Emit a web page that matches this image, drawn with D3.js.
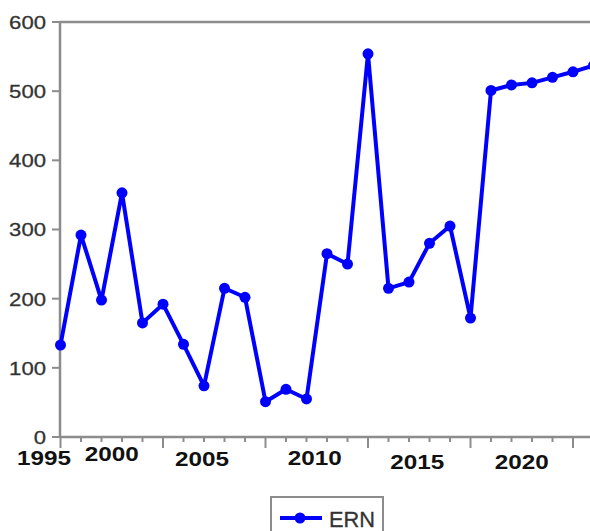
<!DOCTYPE html>
<html>
<head>
<meta charset="utf-8">
<script src="https://cdn.jsdelivr.net/npm/d3@7"></script>
<style>
  body { margin:0; background:#fff; }
  svg { display:block; }
</style>
</head>
<body>
<div id="chart"></div>
<script>
const years = d3.range(1995, 2022);
const ern = [133, 292, 198, 353, 165, 192, 134, 74, 215, 202, 51, 69, 55, 265, 250, 554,
             215, 224, 280, 305, 172, 501, 509, 512, 520, 528, 537];
const yTicks = [0, 100, 200, 300, 400, 500, 600];
// x labels sit where the original picture put them (offset from the ticks)
const xLabels = ["1995", "2000", "2005", "2010", "2015", "2020"];
const xLabelAt = [1994.2, 1997.5, 2001.9, 2007.4, 2012.4, 2017.5];
const xLabelDy = [0, -4, 1, 0, 4, 4];

const width = 590, height = 531;
const x = d3.scaleLinear().domain([1995, 2020]).range([60.5, 573]);
const y = d3.scaleLinear().domain([0, 600]).range([437, 22]);

const svg = d3.select("#chart").append("svg")
    .attr("width", width).attr("height", height);

// frame
svg.append("line").attr("x1", 60).attr("x2", width).attr("y1", y(600)).attr("y2", y(600))
    .attr("stroke", "#8c8c8c").attr("stroke-width", 2.5);
svg.append("line").attr("x1", 60).attr("x2", 60).attr("y1", y(600)).attr("y2", y(0))
    .attr("stroke", "#8c8c8c").attr("stroke-width", 2.5);
svg.append("line").attr("x1", 60).attr("x2", width).attr("y1", y(0)).attr("y2", y(0))
    .attr("stroke", "#8c8c8c").attr("stroke-width", 2.5);

// y ticks + labels
yTicks.forEach(t => {
    svg.append("line").attr("x1", 52).attr("x2", 60).attr("y1", y(t)).attr("y2", y(t))
        .attr("stroke", "#8c8c8c").attr("stroke-width", 2);
    svg.append("text")
        .attr("x", 46).attr("y", y(t)).attr("dy", "0.36em")
        .attr("text-anchor", "end")
        .attr("textLength", String(t).length * 12.3)
        .attr("lengthAdjust", "spacingAndGlyphs")
        .style("font-family", "'Liberation Sans', Arial, sans-serif")
        .style("font-size", "19px")
        .style("fill", "#333")
        .style("stroke", "#333").style("stroke-width", 0.3)
        .text(t);
});

// x ticks
years.forEach((yr, i) => {
    svg.append("line").attr("x1", x(yr)).attr("x2", x(yr))
        .attr("y1", y(0)).attr("y2", y(0) + (i % 5 === 0 ? 11 : 5))
        .attr("stroke", "#8c8c8c").attr("stroke-width", 2);
});

// x labels
xLabels.forEach((lab, i) => {
    svg.append("text")
        .attr("x", x(xLabelAt[i])).attr("y", 465 + xLabelDy[i])
        .attr("text-anchor", "middle")
        .attr("textLength", 54)
        .attr("lengthAdjust", "spacingAndGlyphs")
        .style("font-family", "'Liberation Sans', Arial, sans-serif")
        .style("font-size", "20px")
        .style("font-weight", "bold")
        .style("fill", "#111")
        .text(lab);
});

// series
const pts = years.map((yr, i) => ({ year: yr, value: ern[i] }));
const line = d3.line().x(d => x(d.year)).y(d => y(d.value));
svg.append("path").datum(pts)
    .attr("d", line)
    .attr("fill", "none")
    .attr("stroke", "#0000ff")
    .attr("stroke-width", 4)
    .attr("stroke-linejoin", "round");
svg.selectAll(".pt").data(pts).join("circle")
    .attr("class", "pt")
    .attr("cx", d => x(d.year)).attr("cy", d => y(d.value))
    .attr("r", 5.5)
    .attr("fill", "#0000ff");

// legend
const lg = svg.append("g");
lg.append("rect").attr("x", 271).attr("y", 497).attr("width", 112).attr("height", 50)
    .attr("fill", "#fff").attr("stroke", "#8c8c8c").attr("stroke-width", 2);
lg.append("line").attr("x1", 280).attr("x2", 322).attr("y1", 518).attr("y2", 518)
    .attr("stroke", "#0000ff").attr("stroke-width", 4);
lg.append("circle").attr("cx", 300).attr("cy", 518).attr("r", 5.5).attr("fill", "#0000ff");
lg.append("text")
    .attr("x", 329).attr("y", 527)
    .attr("textLength", 46)
    .attr("lengthAdjust", "spacingAndGlyphs")
    .style("font-family", "'Liberation Sans', Arial, sans-serif")
    .style("font-size", "22px")
    .style("fill", "#333")
    .style("stroke", "#333").style("stroke-width", 0.3)
    .text("ERN");
</script>
</body>
</html>
